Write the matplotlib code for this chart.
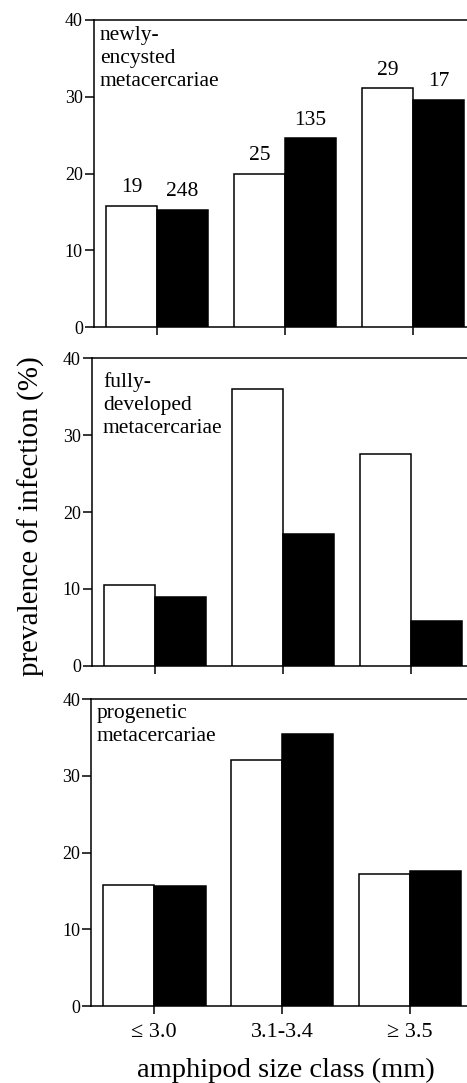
import numpy as np
import matplotlib.pyplot as plt

# amphipod size classes (x axis)
size_classes = ['\u2264 3.0', '3.1-3.4', '\u2265 3.5']

panel_titles = ['newly-\nencysted\nmetacercariae',
                'fully-\ndeveloped\nmetacercariae',
                'progenetic\nmetacercariae']

# prevalence of infection (%), open vs filled bars
newly_open = [15.8, 20.0, 31.1]
newly_filled = [15.3, 24.6, 29.6]
fully_open = [10.5, 36.0, 27.6]
fully_filled = [8.9, 17.1, 5.8]
prog_open = [15.8, 32.0, 17.2]
prog_filled = [15.7, 35.5, 17.6]

# sample sizes written above the bars of the top panel
n_open = [19, 25, 29]
n_filled = [248, 135, 17]

plt.rcParams['font.family'] = ['Liberation Serif', 'DejaVu Serif']
plt.rcParams['axes.linewidth'] = 1.1

W, H = 467, 1083
fig = plt.figure(figsize=(W / 100, H / 100), dpi=100)

# panel boxes in pixels: left, top, bottom
boxes = [(94, 20, 327), (92, 358.3, 665.7), (91.3, 699, 1006.3)]
text_pos = [(0.016, 0.982), (0.029, 0.956), (0.015, 0.984)]
series = [(newly_open, newly_filled), (fully_open, fully_filled),
          (prog_open, prog_filled)]

x = np.arange(len(size_classes))
bw = 0.40
px_per_unit = 128.0

for i, (left, top, bot) in enumerate(boxes):
    ax = fig.add_axes([left / W, 1 - bot / H, (W - left) / W, (bot - top) / H])
    op, fl = series[i]
    b1 = ax.bar(x - bw / 2, op, bw, color='white', edgecolor='black',
                linewidth=1.1, zorder=3)
    b2 = ax.bar(x + bw / 2, fl, bw, color='black', edgecolor='black',
                linewidth=1.1, zorder=3)
    if i == 0:
        ax.bar_label(b1, labels=[str(n) for n in n_open], padding=6, fontsize=15.5)
        ax.bar_label(b2, labels=[str(n) for n in n_filled], padding=6, fontsize=15.5)

    # first group centre sits ~63 px right of the y axis
    lo = -63.0 / px_per_unit
    hi = lo + (W - left) / px_per_unit
    ax.set_xlim(lo, hi)
    ax.set_ylim(0, 40)
    ax.set_yticks([0, 10, 20, 30, 40])
    ax.set_xticks(x)
    ax.spines['right'].set_visible(False)
    ax.tick_params(axis='y', direction='out', length=6.5, width=1.1,
                   labelsize=13, pad=1.5)
    ax.tick_params(axis='x', direction='out', length=6, width=1.1,
                   labelsize=16, pad=6)
    if i < 2:
        ax.set_xticklabels([])
    else:
        ax.set_xticklabels(size_classes)

    ax.text(text_pos[i][0], text_pos[i][1], panel_titles[i],
            transform=ax.transAxes, ha='left', va='top', fontsize=15.5,
            linespacing=1.3)

fig.text(31.5 / W, 1 - 516 / H, 'prevalence of infection (%)',
         rotation=90, ha='center', va='center', fontsize=21)
fig.text(286 / W, (H - 1077) / H, 'amphipod size class (mm)',
         ha='center', va='baseline', fontsize=20.5)

fig.savefig('out.png', dpi=100)
